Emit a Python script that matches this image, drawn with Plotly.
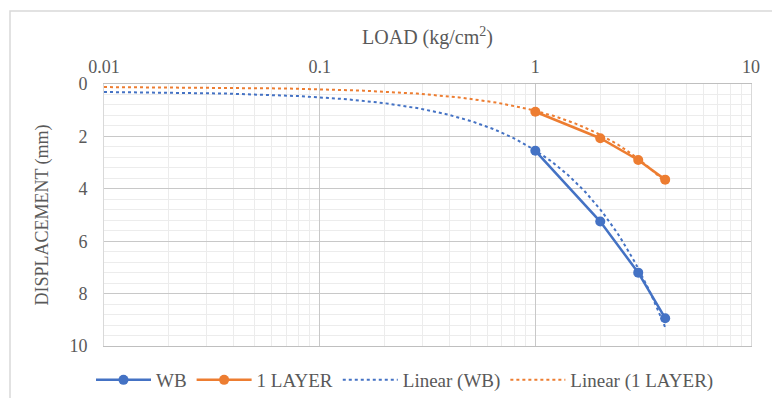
import numpy as np
import plotly.graph_objects as go

load = [0, 1, 2, 3, 4]
wb = [0, 2.55, 5.25, 7.2, 8.94]
layer1 = [0, 1.06, 2.07, 2.9, 3.65]
x_ticks = [0.01, 0.1, 1, 10]
x_tick_labels = ["0.01", "0.1", "1", "10"]
y_ticks = [0, 2, 4, 6, 8, 10]

BLUE = "#4472C4"
ORANGE = "#ED7D31"
TXT = "#595959"
FONT = "'Times New Roman', 'Liberation Serif', serif"

W, H = 772, 398
L, R, T, B = 104, 21, 84, 52
pw, ph = W - L - R, H - T - B


def px_x(p):
    return (p - L) / pw


def px_y(p):
    return (H - B - p) / ph


fig = go.Figure()

pos = [i for i, v in enumerate(load) if v > 0]
xs = [load[i] for i in pos]

fig.add_trace(go.Scatter(x=xs, y=[wb[i] for i in pos], name="WB", mode="lines+markers",
                         line=dict(color=BLUE, width=2.5), marker=dict(size=10, color=BLUE)))
fig.add_trace(go.Scatter(x=xs, y=[layer1[i] for i in pos], name="1 LAYER", mode="lines+markers",
                         line=dict(color=ORANGE, width=2.5), marker=dict(size=10, color=ORANGE)))

# Excel-style linear trendlines (fit on all data incl. the zero point), drawn on log x
xt = np.logspace(np.log10(0.01), np.log10(max(load)), 200)
bw, aw = np.polyfit(load, wb, 1)
bl, al = np.polyfit(load, layer1, 1)
fig.add_trace(go.Scatter(x=xt, y=aw + bw * xt, name="Linear (WB)", mode="lines",
                         line=dict(color=BLUE, width=2, dash="dot")))
fig.add_trace(go.Scatter(x=xt, y=al + bl * xt, name="Linear (1 LAYER)", mode="lines",
                         line=dict(color=ORANGE, width=2, dash="dot")))

fig.update_layout(
    width=W, height=H,
    margin=dict(l=L, r=R, t=T, b=B, autoexpand=False),
    paper_bgcolor="white", plot_bgcolor="white",
    font=dict(family=FONT, size=18, color=TXT),
    showlegend=True,
    legend=dict(orientation="h", x=px_x(405), xanchor="center", y=px_y(380), yanchor="middle",
                font=dict(family=FONT, size=19, color=TXT), itemwidth=55,
                traceorder="normal"),
    xaxis=dict(type="log", side="top", range=[-2, 1],
               tickvals=x_ticks, ticktext=x_tick_labels,
               showgrid=True, gridcolor="#c8c8c8", gridwidth=1,
               minor=dict(showgrid=True, gridcolor="#ececec", gridwidth=1,
                          tickvals=[m * 10 ** e for e in (-2, -1, 0) for m in range(2, 10)]),
               showline=True, linecolor="#bfbfbf", linewidth=1, mirror=True,
               ticks="", ticklabelstandoff=3, zeroline=False,
               title=dict(text="LOAD (kg/cm<sup>2</sup>)", standoff=6,
                          font=dict(family=FONT, size=20, color=TXT)),
               tickfont=dict(family=FONT, size=18, color=TXT)),
    yaxis=dict(range=[10, 0], tickvals=y_ticks,
               showgrid=True, gridcolor="#c8c8c8", gridwidth=1,
               minor=dict(showgrid=True, gridcolor="#ececec", gridwidth=1, dtick=0.4),
               showline=True, linecolor="#d9d9d9", linewidth=1, mirror=True,
               ticks="", zeroline=False, ticklabelstandoff=12,
               title=dict(text="DISPLACEMENT (mm)", standoff=16,
                          font=dict(family=FONT, size=18, color=TXT)),
               tickfont=dict(family=FONT, size=18, color=TXT)),
    shapes=[dict(type="rect", xref="paper", yref="paper",
                 x0=px_x(10), x1=px_x(800), y0=px_y(420), y1=px_y(11),
                 line=dict(color="#d9d9d9", width=1.5), fillcolor="rgba(0,0,0,0)", layer="below")],
)

fig.write_html("out.html", config={"displayModeBar": False},
               post_script="document.body.style.margin='0';document.body.style.overflow='hidden';")
